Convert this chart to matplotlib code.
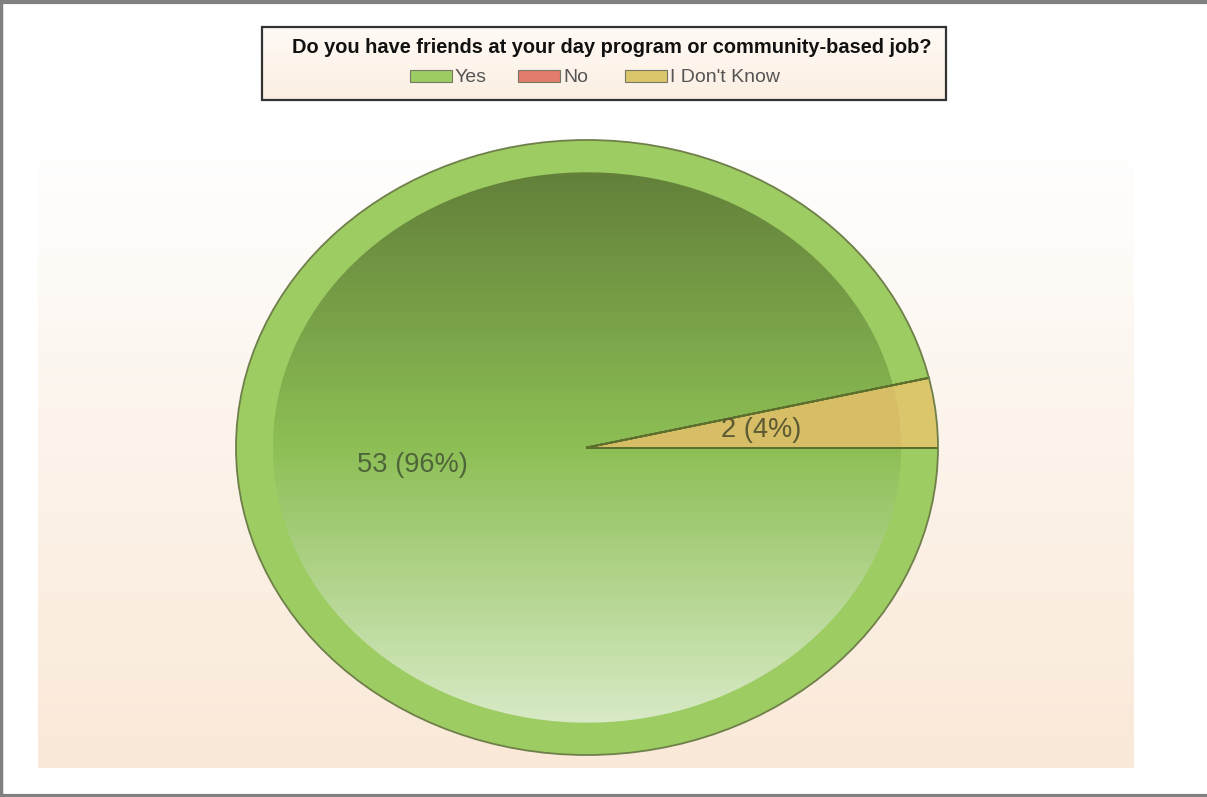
import numpy as np
import matplotlib.pyplot as plt
from matplotlib.patches import Wedge, Rectangle, Circle
from matplotlib.colors import LinearSegmentedColormap

question = "Do you have friends at your day program or community-based job?"
answers = ["Yes", "No", "I Don't Know"]
counts = [53, 0, 2]

ring_colors = ["#9dcc62", "#e27c6c", "#dcc66b"]
inner_colors = ["#8dbf55", "#d9786a", "#d6bd66"]

plt.rcParams["font.family"] = ["Liberation Sans", "DejaVu Sans"]

W, H = 1207, 797
fig = plt.figure(figsize=(W / 100, H / 100), dpi=100)


def vgrad(colors, n=256):
    cmap = LinearSegmentedColormap.from_list("g", colors)
    return cmap(np.linspace(0, 1, n))[:, None, :]


# background layer in pixel coordinates
bg = fig.add_axes([0, 0, 1, 1])
bg.set_xlim(0, W)
bg.set_ylim(H, 0)
bg.axis("off")
bg.imshow(vgrad(["#ffffff", "#fcf3ea", "#fae9d8"]), extent=(38, 1134, 768, 140),
          aspect="auto", origin="upper", zorder=1)
# outer frame: top, left, bottom only
bg.plot([0, W], [1.5, 1.5], color="#808080", lw=3, zorder=5, solid_capstyle="butt")
bg.plot([1.2, 1.2], [0, H], color="#808080", lw=2.5, zorder=5, solid_capstyle="butt")
bg.plot([0, W], [795.5, 795.5], color="#808080", lw=3, zorder=5, solid_capstyle="butt")

# legend box
bg.imshow(vgrad(["#fffaf5", "#fcefe2"]), extent=(262, 946, 100, 27),
          aspect="auto", origin="upper", zorder=3)
bg.add_patch(Rectangle((262, 27), 684, 73, fill=False, ec="#333333", lw=1.6, zorder=4))
bg.text(612, 47, question, ha="center", va="center", fontsize=14.4,
        fontweight="bold", color="#111111", zorder=5)

sw_x = [410, 518, 625]
for i, name in enumerate(answers):
    x = sw_x[i]
    bg.add_patch(Rectangle((x, 70), 42, 12, fc=ring_colors[i], ec="#777766", lw=0.8, zorder=5))
    bg.text(x + 45, 77, name, ha="left", va="center", fontsize=14,
            color="#555555", zorder=5)

# pie
ax = fig.add_axes([236 / W, (H - 755) / H, 702 / W, 615 / H])
total = sum(counts)


def fmt(pct):
    n = int(round(pct * total / 100))
    if n == 0:
        return ""
    return f"{n} ({pct:.0f}%)"


wedges, texts, autotexts = ax.pie(
    counts, colors=ring_colors, startangle=0, counterclock=False, radius=1,
    autopct=fmt, pctdistance=0.5, wedgeprops=dict(edgecolor="none"),
    textprops=dict(fontsize=19.6, color="#4e6439"))
ax.set_aspect("auto")
ax.set_xlim(-1, 1)
ax.set_ylim(-1, 1)
ax.axis("off")

r_in = 0.895
for i, w in enumerate(wedges):
    if counts[i] == 0:
        continue
    iw = Wedge((0, 0), r_in, w.theta1, w.theta2, fc=inner_colors[i], ec="none", zorder=2)
    ax.add_patch(iw)
    if i == 0:
        img = ax.imshow(vgrad(["#63803a", "#8dbf55", "#d8eac6"]),
                        extent=(-r_in, r_in, -r_in, r_in), aspect="auto",
                        origin="upper", zorder=2)
        img.set_clip_path(iw)
        iw.set_facecolor("none")

for t in autotexts:
    t.set_zorder(6)
    if t.get_text().startswith("2"):
        t.set_color("#5b5a32")

for w in wedges:
    for ang in (w.theta1, w.theta2):
        a = np.deg2rad(ang)
        ax.plot([0, np.cos(a)], [0, np.sin(a)], color="#5d6f2c", lw=1.3, zorder=5)
ax.add_patch(Circle((0, 0), 1, fill=False, ec="#6f7f4a", lw=1.3, zorder=5, clip_on=False))

fig.savefig("out.png", dpi=100)
